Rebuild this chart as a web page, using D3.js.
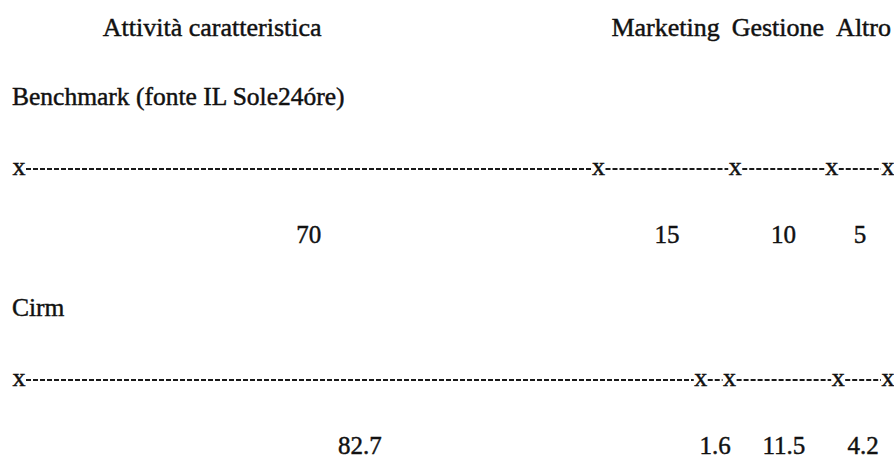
<!DOCTYPE html>
<html>
<head>
<meta charset="utf-8">
<script src="https://cdn.jsdelivr.net/npm/d3@7"></script>
<style>
  body { margin: 0; background: #fff; }
  text { font-family: "Liberation Serif", "DejaVu Serif", serif; fill: #111; stroke: #111; stroke-width: 0.45px; }
</style>
</head>
<body>
<div id="chart"></div>
<script>
const categories = ["Attività caratteristica", "Marketing", "Gestione", "Altro"]
const rowNames = ["Benchmark (fonte IL Sole24óre)", "Cirm"]
const benchmark = [70, 15, 10, 5]
const cirm = [82.7, 1.6, 11.5, 4.2]
const valueLabels = [["70", "15", "10", "5"], ["82.7", "1.6", "11.5", "4.2"]]

const width = 894, height = 458
const left = 19, right = 888
const pad = 16          // room taken by each "x" marker
const rowStep = 211

const svg = d3.create("svg")
   .attr("width", width)
   .attr("height", height)
   .attr("viewBox", [0, 0, width, height])

d3.select("#chart").node().append(svg.node())

const x = d3.scaleLinear()
   .domain([0, 100])
   .range([0, right - left - pad * categories.length])

// marker positions: start of row + cumulative share + one pad per marker passed
function markers(values) {
   let cum = 0
   const pos = [left]
   values.forEach((v, i) => {
      cum += v
      pos.push(left + x(cum) + (i + 1) * pad)
   })
   return pos
}

const rows = [benchmark, cirm].map((values, r) => {
   return {
      name: rowNames[r],
      values: values,
      labels: valueLabels[r],
      pos: markers(values),
      y0: r * rowStep
   }
})

// column headers: first one over its segment, the rest packed from the right edge
const bpos = rows[0].pos
const headers = svg.append("g")
   .attr("font-size", 26)
   .selectAll("text")
   .data(categories)
   .join("text")
   .attr("y", 36)
   .text(d => d)

const hw = headers.nodes().map(n => n.getComputedTextLength())
let edge = right + 3
const hx = []
for (let i = categories.length - 1; i > 0; i--) {
   hx[i] = edge - hw[i]
   edge = hx[i] - 12
}
hx[0] = bpos[0] + (bpos[1] - bpos[0]) / 3 - hw[0] / 2
headers.attr("x", (d, i) => hx[i])

const row = svg.selectAll("g.row")
   .data(rows)
   .join("g")
   .attr("class", "row")
   .attr("transform", d => `translate(0,${d.y0})`)

row.append("text")
   .attr("x", 12)
   .attr("y", 105)
   .attr("font-size", 25.5)
   .text(d => d.name)

// dashed segments between markers
row.selectAll("line")
   .data(d => d.values.map((v, i) => [d.pos[i], d.pos[i + 1]]))
   .join("line")
   .attr("x1", d => d[0] + 7)
   .attr("x2", d => d[1] - 7)
   .attr("y1", 169)
   .attr("y2", 169)
   .attr("stroke", "#1a1a1a")
   .attr("stroke-width", 2.2)
   .attr("stroke-dasharray", "5,2")

row.selectAll("text.mark")
   .data(d => d.pos)
   .join("text")
   .attr("class", "mark")
   .attr("x", d => d)
   .attr("y", 175)
   .attr("font-size", 26)
   .attr("text-anchor", "middle")
   .text("x")

row.selectAll("text.val")
   .data(d => d.labels.map((l, i) => ({ label: l, x: (d.pos[i] + d.pos[i + 1]) / 2 })))
   .join("text")
   .attr("class", "val")
   .attr("x", d => d.x)
   .attr("y", 243)
   .attr("font-size", 25)
   .attr("text-anchor", "middle")
   .text(d => d.label)
</script>
</body>
</html>
